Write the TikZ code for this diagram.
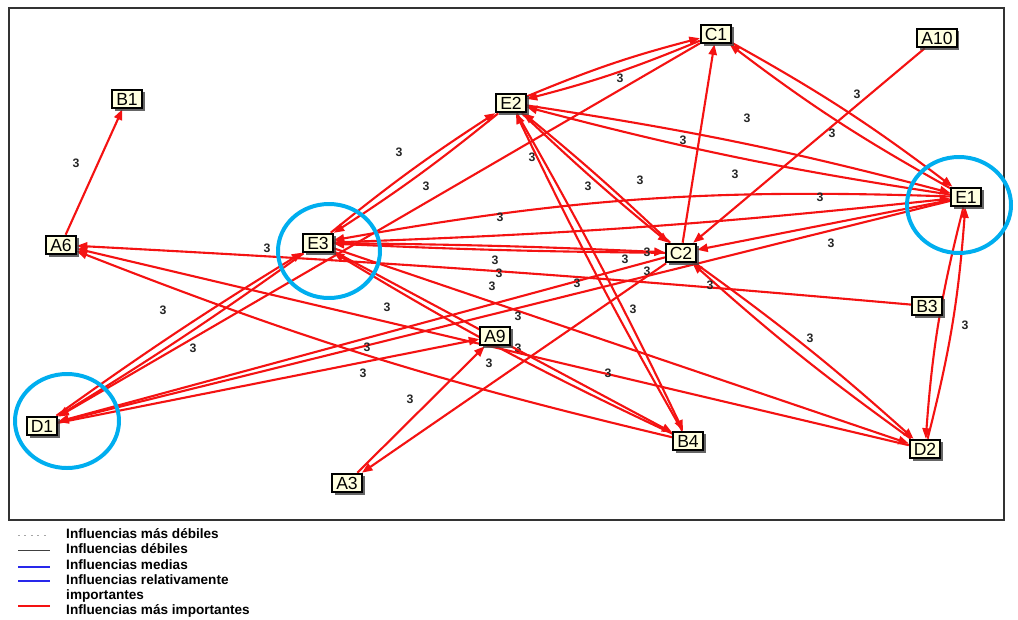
\documentclass[tikz,border=0pt]{standalone}
\usepackage{fontspec}
\setmainfont{Liberation Sans}
\usetikzlibrary{arrows.meta,shadows}
\definecolor{cream}{RGB}{255,255,224}
\definecolor{linkred}{RGB}{244,18,18}
\definecolor{ringblue}{RGB}{0,174,239}
\definecolor{legblue}{RGB}{40,40,235}
\pgfdeclarelayer{links}
\pgfsetlayers{links,main}
\begin{document}
\begin{tikzpicture}[x=0.03cm,y=-0.03cm,
  factor/.style={draw=black, line width=1.6pt, fill=cream,
    font=\fontsize{15}{16}\selectfont, inner xsep=3.4pt, inner ysep=2.6pt,
    text height=10.8pt, text depth=0pt,
    drop shadow={shadow xshift=2.4pt, shadow yshift=-2.4pt, fill=black!75, opacity=.8}},
  link/.style={draw=linkred, line width=1.8pt, -{Triangle[length=9pt,width=7pt]}},
  w/.style={font=\bfseries\fontsize{10.5}{11}\selectfont, inner sep=0pt, text=black!85},
  ring/.style={draw=ringblue, line width=3.4pt},
  legtext/.style={font=\bfseries\fontsize{11.6}{12}\selectfont, anchor=west, inner sep=0pt},
]
\useasboundingbox (0,0) rectangle (1018,619);

% variables
\node[factor] (B1)  at (127,99)  {B1};
\node[factor] (A6)  at (61,245)  {A6};
\node[factor] (E3)  at (318,243) {E3};
\node[factor] (E2)  at (511,103) {E2};
\node[factor] (C1)  at (716,34)  {C1};
\node[factor] (A10) at (937,38)  {A10};
\node[factor] (E1)  at (966,197) {E1};
\node[factor] (C2)  at (681,253) {C2};
\node[factor] (B3)  at (927,306) {B3};
\node[factor] (A9)  at (495,336) {A9};
\node[factor] (D1)  at (42,426)  {D1};
\node[factor] (B4)  at (688,441) {B4};
\node[factor] (D2)  at (925,449) {D2};
\node[factor] (A3)  at (347,483) {A3};

\begin{pgfonlayer}{links}
\draw[line width=1.4pt, black!80] (9,8) rectangle (1004,520);

\draw[link] (A6) -- (B1) node[w, at={(76,163)}] {3};
\draw[link] (A10) -- (C2) node[w, at={(857,94)}] {3};
\draw[link] (E2) to[bend left=4] (C1) node[w, at={(620,78)}] {3};
\draw[link] (C1) to[bend left=4] (E2);
\draw[link] (C2) -- (C1) node[w, at={(735,174)}] {3};
\draw[link] (E1) to[bend left=4] (C1);
\draw[link] (C1) to[bend left=4] (E1) node[w, at={(832,133)}] {3};
\draw[link] (E1) to[bend left=3] (E2) node[w, at={(747,118)}] {3};
\draw[link] (E2) to[bend left=3] (E1) node[w, at={(683,140)}] {3};
\draw[link] (E1) to[bend right=6] (E3) node[w, at={(820,197)}] {3};
\draw[link] (E3) to[bend right=2] (E1) node[w, at={(500,217)}] {3};
\draw[link] (E1) -- (C2) node[w, at={(831,243)}] {3};
\draw[link] (E2) to[bend left=3] (E3) node[w, at={(399,152)}] {3};
\draw[link] (E3) to[bend left=3] (E2) node[w, at={(426,186)}] {3};
\draw[link] (E3) to[bend left=1] (C2) node[w, at={(495,260)}] {3};
\draw[link] (C2) to[bend left=1] (E3) node[w, at={(625,259)}] {3};
\draw[link] (C1) -- (D1) node[w, at={(193,348)}] {3};
\draw[link] (C2) to[bend right=2] (E2) node[w, at={(588,186)}] {3};
\draw[link] (E2) to[bend right=2] (C2) node[w, at={(640,180)}] {3};
\draw[link] (E2) to[bend left=2] (B4) node[w, at={(532,157)}] {3};
\draw[link] (B4) to[bend left=2] (E2) node[w, at={(633,309)}] {3};
\draw[link] (C2) to[bend left=3] (D2) node[w, at={(647,252)}] {3};
\draw[link] (D2) to[bend left=3] (C2) node[w, at={(810,338)}] {3};
\draw[link] (E1) to[bend right=5] (D2) node[w, at={(965,325)}] {3};
\draw[link] (D2) to[bend right=5] (E1) node[w, at={(489,363)}] {3};
\draw[link] (B3) to[bend right=1] (A6) node[w, at={(710,285)}] {3} node[w, at={(267,248)}] {3};
\draw[link] (E1) -- (D1) node[w, at={(647,271)}] {3};
\draw[link] (C2) -- (A3) node[w, at={(518,348)}] {3};
\draw[link] (A3) -- (A9) node[w, at={(410,399)}] {3};
\draw[link] (D1) -- (A9) node[w, at={(363,373)}] {3};
\draw[link] (E3) -- (B4) node[w, at={(499,273)}] {3};
\draw[link] (B4) to[bend left=3] (E3) node[w, at={(492,286)}] {3};
\draw[link] (E3) -- (D2) node[w, at={(518,316)}] {3};
\draw[link] (B4) to[bend left=4] (A6) node[w, at={(367,347)}] {3};
\draw[link] (D2) -- (A6) node[w, at={(608,373)}] {3};
\draw[link] (C2) -- (D1) node[w, at={(577,283)}] {3};
\draw[link] (E3) to[bend left=2] (D1) node[w, at={(163,310)}] {3};
\draw[link] (D1) to[bend left=2] (E3) node[w, at={(387,307)}] {3};
\end{pgfonlayer}

% highlighted variables
\draw[ring] (329,251) ellipse [x radius=51, y radius=47];
\draw[ring] (959,205) ellipse [x radius=52, y radius=48];
\draw[ring] (67,421) ellipse [x radius=52, y radius=47];

% legend
\draw[line width=1.4pt, black!80] (9,520) -- (255,520);
\draw[black!35, line width=0.8pt, dash pattern=on 1.5pt off 4pt] (18,535) -- (50,535);
\draw[black!75, line width=0.8pt] (18,550) -- (50,550);
\draw[legblue, line width=1pt] (18,567) -- (50,567);
\draw[legblue, line width=2pt] (18,581) -- (50,581);
\draw[linkred, line width=2.2pt] (18,606) -- (50,606);
\node[legtext] (l1) at (66,534) {Influencias más débiles};
\node[legtext] (l2) at (66,549) {Influencias débiles};
\node[legtext] (l3) at (66,565) {Influencias medias};
\node[legtext] (l4) at (66,580) {Influencias relativamente};
\node[legtext] (l5) at (66,596) {importantes};
\node[legtext] (l6) at (66,611) {Influencias más importantes};
\end{tikzpicture}
\end{document}
